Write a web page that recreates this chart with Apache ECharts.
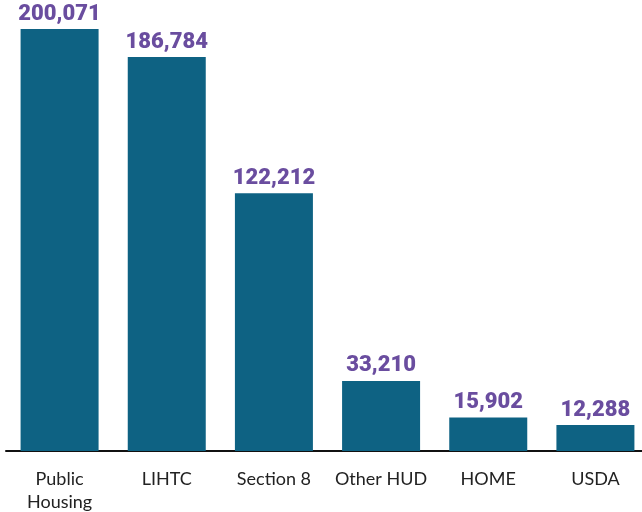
<!DOCTYPE html>
<html><head><meta charset="utf-8">
<script src="https://cdn.jsdelivr.net/npm/echarts@6/dist/echarts.min.js"></script>
<style>html,body{margin:0;padding:0;background:#fff}#c{width:642px;height:512px}</style>
</head><body><div id="c"></div>
<script>
const categories = ['Public\nHousing', 'LIHTC', 'Section 8', 'Other HUD', 'HOME', 'USDA'];
const values = [200071, 186784, 122212, 33210, 15902, 12288];
const chart = echarts.init(document.getElementById('c'), null, {renderer: 'canvas'});
chart.setOption({
  animation: false,
  grid: {left: 6, top: 29, width: 643, bottom: 61, containLabel: false, outerBoundsMode: 'none'},
  xAxis: {
    type: 'category', data: categories,
    axisLine: {lineStyle: {color: '#111', width: 2}},
    axisTick: {show: false},
    axisLabel: {color: '#222', fontFamily: 'Lato', fontSize: 18, lineHeight: 23, margin: 17, interval: 0}
  },
  yAxis: {type: 'value', min: 0, max: 200071, show: false, splitLine: {show: false}},
  series: [{
    type: 'bar', data: values, barWidth: 78,
    itemStyle: {color: '#0e6283'},
    label: {show: true, position: 'top', distance: 4, color: '#6a4d9f', fontFamily: 'Roboto', fontWeight: 900, fontSize: 22,
      formatter: p => p.value.toLocaleString('en-US')}
  }]
});
</script></body></html>
